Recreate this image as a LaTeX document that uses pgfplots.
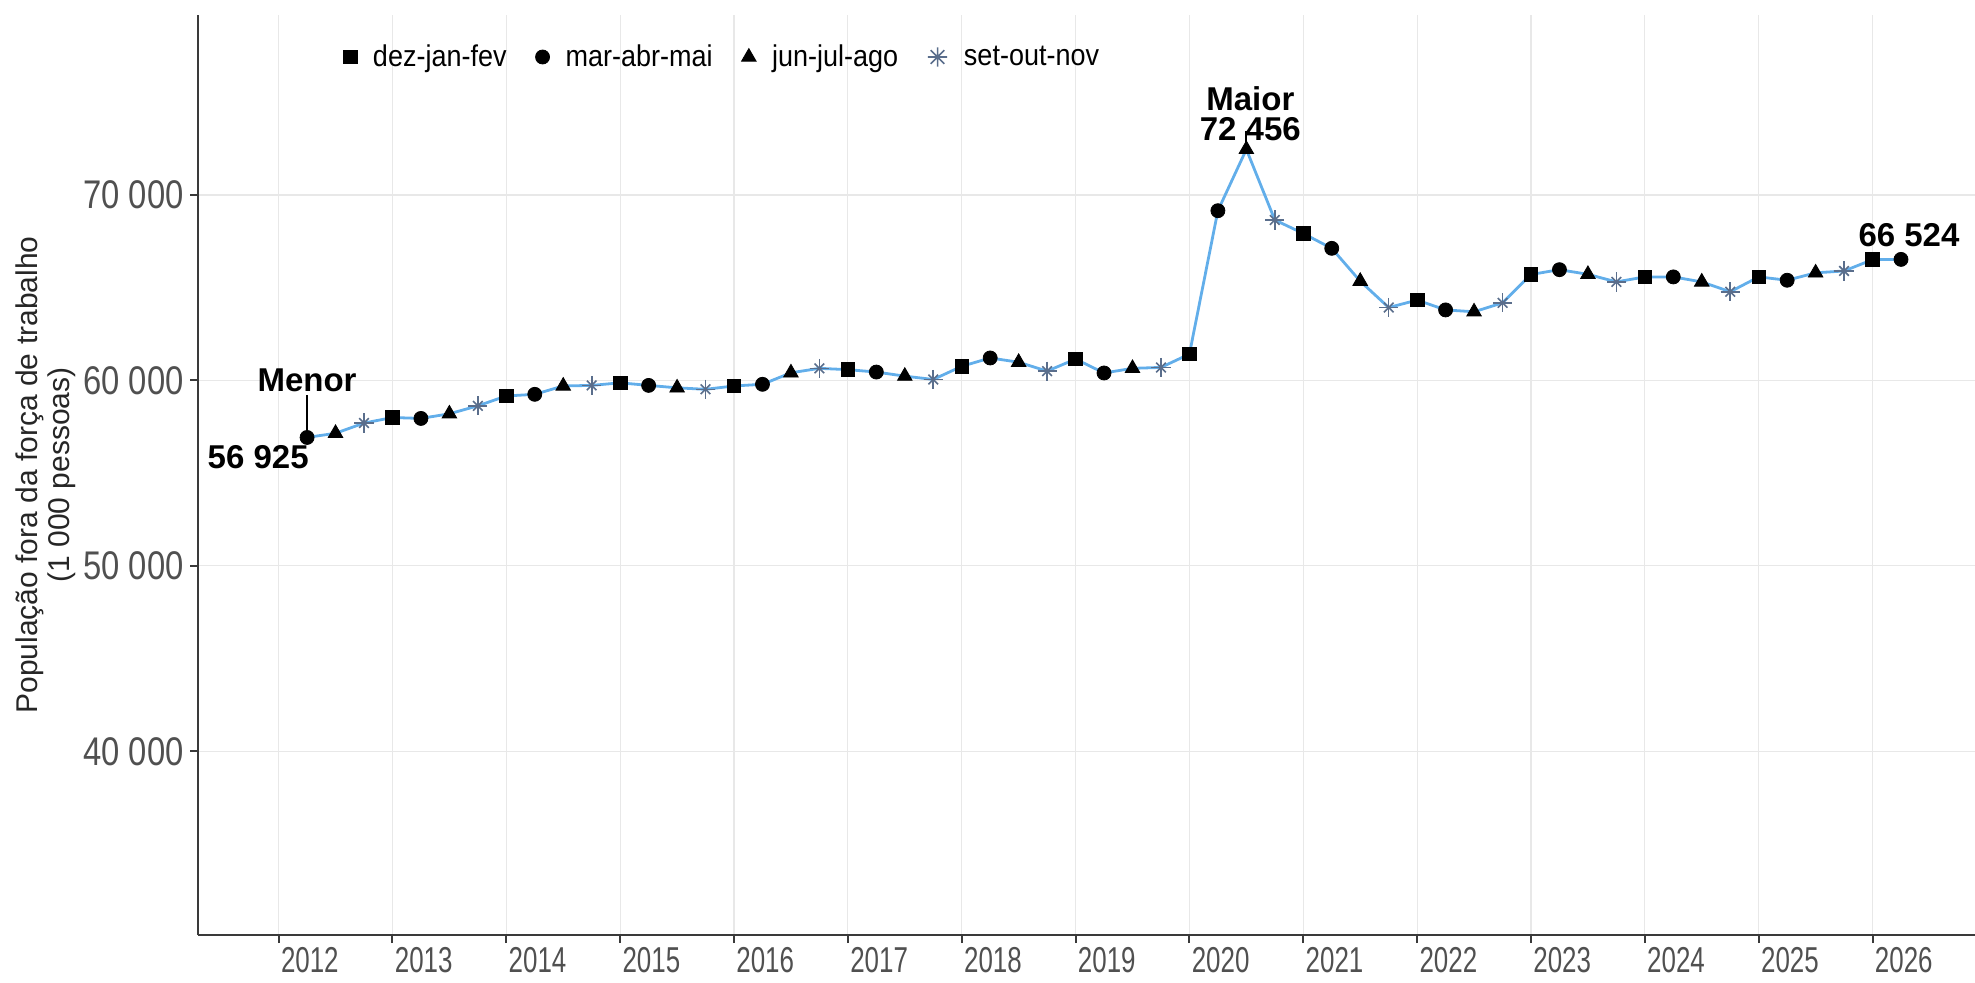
\documentclass[border=0pt]{standalone}
\usepackage{pgfplots}
\pgfplotsset{compat=1.18}
\usepackage{fontspec}
\setmainfont{Liberation Sans}
\newfontfamily\narrowfont[FakeStretch=0.82]{Liberation Sans}
\newfontfamily\narrowerfont[FakeStretch=0.72]{Liberation Sans}
\newfontfamily\legfont[FakeStretch=0.9]{Liberation Sans}
\definecolor{linebl}{HTML}{62AEEA}
\definecolor{gridc}{HTML}{E8E8E8}
\definecolor{axc}{HTML}{3A3A3A}
\definecolor{tickc}{HTML}{505050}
\definecolor{astc}{HTML}{5A6E8C}

\pgfplotstableread{
x y
2012.25 56925
2012.50 57150
2012.75 57700
2013.00 58000
2013.25 57950
2013.50 58200
2013.75 58630
2014.00 59160
2014.25 59250
2014.50 59700
2014.75 59730
2015.00 59870
2015.25 59730
2015.50 59600
2015.75 59520
2016.00 59700
2016.25 59790
2016.50 60410
2016.75 60650
2017.00 60580
2017.25 60450
2017.50 60230
2017.75 60050
2018.00 60760
2018.25 61210
2018.50 60980
2018.75 60500
2019.00 61150
2019.25 60400
2019.50 60650
2019.75 60700
2020.00 61420
2020.25 69150
2020.50 72456
2020.75 68650
2021.00 67920
2021.25 67120
2021.50 65350
2021.75 63930
2022.00 64330
2022.25 63800
2022.50 63700
2022.75 64180
2023.00 65710
2023.25 65970
2023.50 65720
2023.75 65310
2024.00 65580
2024.25 65580
2024.50 65310
2024.75 64780
2025.00 65580
2025.25 65400
2025.50 65800
2025.75 65900
2026.00 66510
2026.25 66524
}\alldata

\pgfplotstableread{
x y
2013.00 58000
2014.00 59160
2015.00 59870
2016.00 59700
2017.00 60580
2018.00 60760
2019.00 61150
2020.00 61420
2021.00 67920
2022.00 64330
2023.00 65710
2024.00 65580
2025.00 65580
2026.00 66510
}\sqdata

\pgfplotstableread{
x y
2012.25 56925
2013.25 57950
2014.25 59250
2015.25 59730
2016.25 59790
2017.25 60450
2018.25 61210
2019.25 60400
2020.25 69150
2021.25 67120
2022.25 63800
2023.25 65970
2024.25 65580
2025.25 65400
2026.25 66524
}\cidata

\pgfplotstableread{
x y
2012.50 57150
2013.50 58200
2014.50 59700
2015.50 59600
2016.50 60410
2017.50 60230
2018.50 60980
2019.50 60650
2020.50 72456
2021.50 65350
2022.50 63700
2023.50 65720
2024.50 65310
2025.50 65800
}\tridata

\pgfplotstableread{
x y
2012.75 57700
2013.75 58630
2014.75 59730
2015.75 59520
2016.75 60650
2017.75 60050
2018.75 60500
2019.75 60700
2020.75 68650
2021.75 63930
2022.75 64180
2023.75 65310
2024.75 64780
2025.75 65900
}\astdata

\begin{document}
\begin{tikzpicture}
\useasboundingbox (-99pt,-23.5pt) rectangle (888.5pt,467.5pt);
\begin{axis}[
  at={(0pt,0pt)}, anchor=south west,
  width=888.5pt, height=460pt, scale only axis,
  xmin=2011.292, xmax=2026.9, ymin=30100, ymax=79700,
  axis lines=left,
  axis line style={-, draw=axc, line width=1.2pt},
  xtick={2012,2013,2014,2015,2016,2017,2018,2019,2020,2021,2022,2023,2024,2025,2026},
  xticklabels={2012,2013,2014,2015,2016,2017,2018,2019,2020,2021,2022,2023,2024,2025,2026},
  ytick={40000,50000,60000,70000},
  yticklabels={40 000,50 000,60 000,70 000},
  /pgf/number format/assume math mode=true,
  tick align=outside, major tick length=4pt,
  tick style={draw=axc, line width=1pt},
  grid=major, major grid style={draw=gridc, line width=0.6pt},
  xticklabel style={anchor=north west, inner sep=0pt, yshift=-2pt, xshift=1pt,
    font=\narrowerfont\fontsize{18}{18}\selectfont, text=tickc},
  yticklabel style={anchor=east, inner sep=0pt, xshift=-3pt,
    font=\narrowfont\fontsize{20}{20}\selectfont, text=tickc},
  ylabel={População fora da força de trabalho\\(1 000 pessoas)},
  every axis y label/.style={at={(axis description cs:-0.0855,0.5)}, rotate=90, anchor=center},
  ylabel style={align=center, font=\fontsize{15}{16}\selectfont, text=black!85},
  legend columns=4,
  legend style={at={(rel axis cs:0,1)}, anchor=west, xshift=72.5pt, yshift=-21pt,
    draw=none, fill=none, inner sep=0pt,
    font=\legfont\fontsize{15}{15}\selectfont,
    nodes={inner sep=2pt},
    /tikz/every odd column/.append style={column sep=6pt},
    /tikz/every even column/.append style={column sep=12.5pt}},
  legend image code/.code={\draw[#1] plot coordinates {(0pt,0pt)};},
  clip=false,
]
\addplot[linebl, line width=1.4pt, no markers, forget plot] table[x=x,y=y] {\alldata};
\addplot[only marks, mark=square*, mark size=3.4pt, black] table[x=x,y=y] {\sqdata};
\addlegendentry{dez-jan-fev}
\addplot[only marks, mark=*, mark size=3.5pt, black] table[x=x,y=y] {\cidata};
\addlegendentry{mar-abr-mai}
\addplot[only marks, mark=triangle*, mark size=4.2pt, black] table[x=x,y=y] {\tridata};
\addlegendentry{jun-jul-ago}
\addplot[only marks, mark=+, mark size=4.8pt, astc, line width=0.8pt,
  legend image code/.code={\draw[astc, line width=0.8pt] (-4.8pt,0pt)--(4.8pt,0pt) (0pt,-4.8pt)--(0pt,4.8pt) (-3.4pt,-3.4pt)--(3.4pt,3.4pt) (-3.4pt,3.4pt)--(3.4pt,-3.4pt);}] table[x=x,y=y] {\astdata};
\addlegendentry{set-out-nov}
\addplot[only marks, mark=x, mark size=3.4pt, astc, line width=0.8pt, forget plot] table[x=x,y=y] {\astdata};

% annotations
\draw[black, line width=1pt] (axis cs:2012.25,56925) -- ++(0pt,21pt);
\node[anchor=base, inner sep=0pt, font=\bfseries\fontsize{16.5}{16.5}\selectfont, yshift=23pt] at (axis cs:2012.25,56925) {Menor};
\node[anchor=north east, inner sep=0pt, font=\bfseries\fontsize{16.5}{16.5}\selectfont, yshift=-4pt, xshift=1pt] at (axis cs:2012.25,56925) {56 925};
\draw[black, line width=1pt] (axis cs:2020.5,72456) -- ++(0pt,9pt);
\node[anchor=base, inner sep=0pt, font=\bfseries\fontsize{16.5}{16.5}\selectfont, yshift=4.4pt, xshift=2pt] at (axis cs:2020.5,72456) {72 456};
\node[anchor=base, inner sep=0pt, font=\bfseries\fontsize{16.5}{16.5}\selectfont, yshift=19.4pt, xshift=2pt] at (axis cs:2020.5,72456) {Maior};
\node[anchor=base, inner sep=0pt, font=\bfseries\fontsize{16.5}{16.5}\selectfont, yshift=6.3pt, xshift=4pt] at (axis cs:2026.25,66524) {66 524};
\end{axis}
\end{tikzpicture}
\end{document}
